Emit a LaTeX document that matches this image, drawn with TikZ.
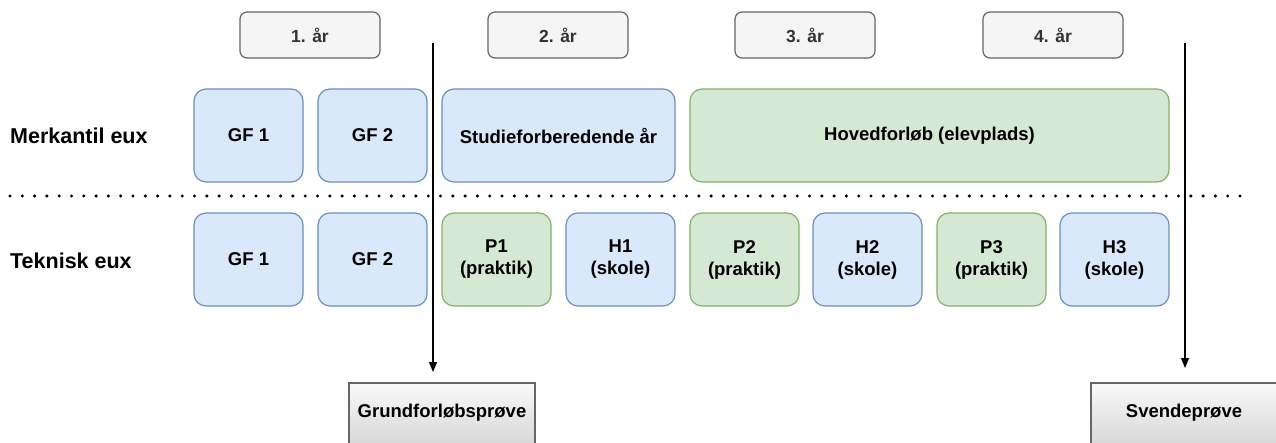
\documentclass[tikz,border=0pt]{standalone}
\usepackage{fontspec}
\setmainfont{Liberation Sans}
\usetikzlibrary{arrows.meta}
\definecolor{bluefill}{HTML}{DAE8FC}
\definecolor{bluedraw}{HTML}{6C8EBF}
\definecolor{greenfill}{HTML}{D5E8D4}
\definecolor{greendraw}{HTML}{82B366}
\definecolor{grayfill}{HTML}{F5F5F5}
\definecolor{graydraw}{HTML}{666666}
\definecolor{graytext}{HTML}{333333}
\tikzset{
  boxfont/.style={font=\bfseries\fontsize{18.5}{22}\selectfont},
  box/.style={rounded corners=12pt, line width=1.2pt, align=center,
    boxfont, inner sep=0pt},
  bluebox/.style={box, fill=bluefill, draw=bluedraw},
  greenbox/.style={box, fill=greenfill, draw=greendraw},
  yearbox/.style={rounded corners=7pt, line width=1.2pt, fill=grayfill, draw=graydraw,
    text=graytext, minimum width=140pt, minimum height=46pt,
    font=\bfseries\fontsize{17.5}{21}\selectfont},
  exambox/.style={draw=graydraw, line width=1.2pt, top color=grayfill!60!white,
    bottom color=black!22},
  rowlabel/.style={anchor=west, inner sep=0pt, font=\bfseries\fontsize{21.5}{25}\selectfont},
  milestone/.style={line width=1.2pt, -{Triangle[length=10pt,width=8pt]}}
}
\begin{document}
\begin{tikzpicture}[x=1pt,y=-1pt]
\clip (0,0) rectangle (1276,443);
\fill[white] (0,0) rectangle (1276,443);

% year headers
\node[yearbox] (y1) at (310,35) {1. år};
\node[yearbox] (y2) at (558,35) {2. år};
\node[yearbox] (y3) at (805,35) {3. år};
\node[yearbox] (y4) at (1053,35) {4. år};

% row labels
\node[rowlabel] (merk) at (10,136) {Merkantil eux};
\node[rowlabel] (tekn) at (10,261) {Teknisk eux};

% upper row
\draw[bluebox] (194,89) rectangle (303,182) node[midway] (m1) {GF 1};
\draw[bluebox] (318,89) rectangle (427,182) node[midway] (m2) {GF 2};
\draw[bluebox] (442,89) rectangle (675,182) node[midway] (m3) {Studieforberedende år};
\draw[greenbox] (690,89) rectangle (1169,182) node[midway] (m4) {Hovedforløb (elevplads)};

% separator
\draw[line width=3.4pt, dash pattern=on 0pt off 12.3pt, line cap=round] (10,196) -- (1240,196);

% lower row
\draw[bluebox] (194,213) rectangle (303,306) node[midway] (t1) {GF 1};
\draw[bluebox] (318,213) rectangle (427,306) node[midway] (t2) {GF 2};
\draw[greenbox] (442,213) rectangle (551,306) node[midway] (t3) {P1\\(praktik)};
\draw[bluebox] (566,213) rectangle (675,306) node[midway] (t4) {H1\\(skole)};
\draw[greenbox] (690,213) rectangle (799,306) node[midway] (t5) {P2\\(praktik)};
\draw[bluebox] (813,213) rectangle (922,306) node[midway] (t6) {H2\\(skole)};
\draw[greenbox] (937,213) rectangle (1046,306) node[midway] (t7) {P3\\(praktik)};
\draw[bluebox] (1060,213) rectangle (1169,306) node[midway] (t8) {H3\\(skole)};

% exams
\draw[exambox] (349,383) rectangle (535,475);
\node[boxfont] (e1) at (442,413) {Grundforløbsprøve};
\draw[exambox] (1091,383) rectangle (1277,475);
\node[boxfont] (e2) at (1184,413) {Svendeprøve};

% milestone markers
\coordinate (s1) at (433,43);
\coordinate (a1) at (433,372);
\coordinate (s2) at (1185,43);
\coordinate (a2) at (1185,368);
\draw[milestone] (s1) -- (a1);
\draw[milestone] (s2) -- (a2);
\end{tikzpicture}
\end{document}
